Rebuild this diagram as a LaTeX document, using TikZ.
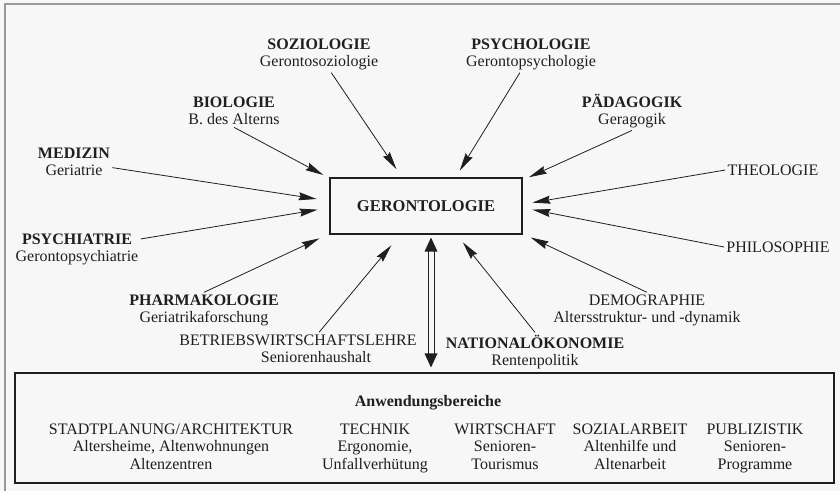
\documentclass[tikz,border=0pt]{standalone}
\usepackage{fontspec}
\setmainfont{Liberation Serif}
\usetikzlibrary{arrows.meta, positioning}

\begin{document}
\begin{tikzpicture}[x=1pt, y=-1pt, ->, >={Stealth[length=18pt,width=8pt,inset=2pt]}, line width=0.8pt, color=black!88]
\tikzstyle{lab}=[align=center, inner sep=2pt, font=\fontsize{16}{17.5}\selectfont]
\tikzstyle{frame}=[draw, line width=1.1pt]

\fill[-, black!3] (0,0) rectangle (840,491);
\useasboundingbox (0,0) rectangle (840,491);
\draw[-, gray!80, line width=1.6pt] (5,491) -- (5,4) -- (840,4);

\node[frame, minimum width=192pt, minimum height=56pt, font=\fontsize{16.5}{18}\selectfont\bfseries] (gero) at (426,206) {GERONTOLOGIE};

\node[lab] (soz) at (319,54.5) {\textbf{SOZIOLOGIE}\\Gerontosoziologie};
\node[lab] (psy) at (531,54.5) {\textbf{PSYCHOLOGIE}\\Gerontopsychologie};
\node[lab] (bio) at (234,110.75) {\textbf{BIOLOGIE}\\B. des Alterns};
\node[lab] (paed) at (632,110.9) {\textbf{PÄDAGOGIK}\\Geragogik};
\node[lab] (med) at (74,161.75) {\textbf{MEDIZIN}\\Geriatrie};
\node[lab] (theo) at (773,170) {THEOLOGIE};
\node[lab] (psyc) at (77,249.5) {\textbf{PSYCHIATRIE}\\Gerontopsychiatrie};
\node[lab] (phil) at (778,247) {PHILOSOPHIE};
\node[lab] (pharm) at (204,310.5) {\textbf{PHARMAKOLOGIE}\\Geriatrikaforschung};
\node[lab] (demo) at (647,310.5) {DEMOGRAPHIE\\Altersstruktur- und -dynamik};
\node[lab] (bwl) at (298,348.75) {BETRIEBSWIRTSCHAFTSLEHRE\\\hspace*{36pt}Seniorenhaushalt};
\node[lab] (nat) at (535,351.9) {\textbf{NATIONALÖKONOMIE}\\Rentenpolitik};

\node[frame, minimum width=819pt, minimum height=110pt] (anw) at (424.5,428) {};
\node[lab] (anwt) at (428,403) {\textbf{Anwendungsbereiche}};
\node[lab] (stadt) at (171,446.5) {STADTPLANUNG/ARCHITEKTUR\\Altersheime, Altenwohnungen\\Altenzentren};
\node[lab] (tech) at (375,448.25) {TECHNIK\\Ergonomie,\\Unfallverhütung};
\node[lab] (wirt) at (505,446.5) {WIRTSCHAFT\\Senioren-\\Tourismus};
\node[lab] (sozarb) at (630,446.5) {SOZIALARBEIT\\Altenhilfe und\\Altenarbeit};
\node[lab] (publ) at (755,448.25) {PUBLIZISTIK\\Senioren-\\Programme};

\path
(soz) edge[shorten >=10pt] (gero.130)
(psy) edge[shorten >=8pt] (gero.44)
(bio.south) edge[shorten >=7pt] (gero.164.5)
(paed.south) edge[shorten >=7pt] (gero.15.7)
(med) edge[shorten >=13pt] (gero.177.7)
(theo.west) edge[shorten >=10pt] (gero.1.5)
(psyc) edge[shorten >=12pt] (gero.181.9)
(phil.west) edge[shorten >=10pt] (gero.-1.3)
(pharm.north) edge[shorten >=11pt] (gero.196)
(demo.north) edge[shorten >=9pt] (gero.-16.3)
(bwl.38) edge[shorten >=14pt] (gero.228.2)
(nat.north) edge[shorten >=10pt] (gero.-43.1);

\coordinate (dtop) at ([xshift=5pt,yshift=-3pt]gero.south);
\coordinate (dfoot) at ([xshift=5pt]gero.south |- anw.north);
\coordinate (dbot) at ([yshift=5pt]dfoot);
\foreach \s in {-3pt,3pt}
  \draw[-] ([xshift=\s,yshift=-13pt]dtop) -- ([xshift=\s,yshift=13pt]dbot);
\fill[-] (dtop) -- ([xshift=-6.5pt,yshift=-14pt]dtop) -- ([xshift=6.5pt,yshift=-14pt]dtop) -- cycle;
\fill[-] (dbot) -- ([xshift=-6.5pt,yshift=14pt]dbot) -- ([xshift=6.5pt,yshift=14pt]dbot) -- cycle;
\end{tikzpicture}
\end{document}
